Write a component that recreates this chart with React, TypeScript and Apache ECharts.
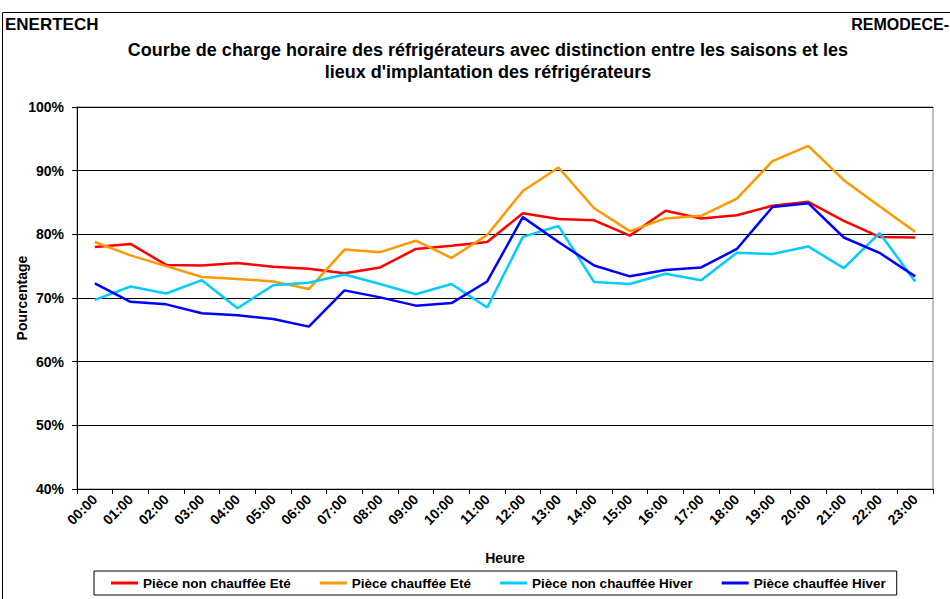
import React, { useEffect, useRef } from "react";
import * as echarts from "echarts";

const hours = ["00:00","01:00","02:00","03:00","04:00","05:00","06:00","07:00","08:00","09:00","10:00","11:00","12:00","13:00","14:00","15:00","16:00","17:00","18:00","19:00","20:00","21:00","22:00","23:00"];

const nonChaufEte = [78.0,78.5,75.2,75.1,75.5,74.9,74.6,73.9,74.8,77.7,78.2,78.8,83.3,82.4,82.2,79.8,83.7,82.5,83.0,84.5,85.1,82.1,79.6,79.5];
const chaufEte = [78.8,76.7,75.0,73.3,73.0,72.6,71.4,77.6,77.2,79.0,76.3,79.9,86.8,90.5,84.1,80.5,82.5,82.9,85.6,91.5,93.9,88.5,84.4,80.4];
const nonChaufHiver = [69.7,71.8,70.7,72.8,68.4,72.0,72.4,73.7,72.2,70.6,72.2,68.5,79.6,81.3,72.5,72.2,73.8,72.8,77.1,76.9,78.1,74.7,80.2,72.6];
const chaufHiver = [72.3,69.4,69.0,67.6,67.3,66.7,65.5,71.2,70.1,68.8,69.2,72.6,82.7,78.8,75.1,73.4,74.4,74.8,77.7,84.3,84.9,79.5,77.1,73.4];

const seriesNames = ["Pièce non chauffée Eté","Pièce chauffée Eté","Pièce non chauffée Hiver","Pièce chauffée Hiver"];
const seriesColors = ["#FF0000","#FF9900","#00CCFF","#0000FF"];
const yTicks = { min: 40, max: 100, interval: 10 };

const FONT = "Arial, 'Liberation Sans', sans-serif";

export default function App() {
  const ref = useRef<HTMLDivElement>(null);
  useEffect(() => {
    if (!ref.current) return;
    const chart = echarts.init(ref.current, null, { renderer: "svg" });
    const data = [nonChaufEte, chaufEte, nonChaufHiver, chaufHiver];
    chart.setOption({
      animation: false,
      backgroundColor: "#ffffff",
      textStyle: { fontFamily: FONT },
      graphic: [
        { type: "rect", shape: { x: 2.5, y: 12.5, width: 1000, height: 700 }, style: { fill: "none", stroke: "#000", lineWidth: 1 }, silent: true },
        { type: "text", x: 5, y: 16, style: { text: "ENERTECH", font: `bold 17px ${FONT}`, fill: "#000" } },
        { type: "text", x: 949, y: 16, style: { text: "REMODECE-", font: `bold 16px ${FONT}`, fill: "#000", align: "right" } },
        { type: "text", x: 488, y: 41, style: { text: "Courbe de charge horaire des réfrigérateurs avec distinction entre les saisons et les", font: `bold 18px ${FONT}`, fill: "#000", align: "center" } },
        { type: "text", x: 488, y: 63, style: { text: "lieux d'implantation des réfrigérateurs", font: `bold 18px ${FONT}`, fill: "#000", align: "center" } },
      ],
      grid: { left: 77, top: 107, width: 856, height: 382, show: true, borderColor: "#808080", borderWidth: 1, backgroundColor: "transparent" },
      legend: {
        left: 94, top: 571,
        padding: [5, 11, 5, 17],
        borderColor: "#000", borderWidth: 1,
        itemGap: 29, itemWidth: 27, itemHeight: 3, icon: "rect",
        textStyle: { fontFamily: FONT, fontWeight: "bold", fontSize: 13.5, color: "#000" },
        data: seriesNames,
      },
      xAxis: {
        type: "category",
        data: hours,
        boundaryGap: true,
        name: "Heure",
        nameLocation: "middle",
        nameGap: 62,
        nameTextStyle: { fontFamily: FONT, fontWeight: "bold", fontSize: 14, color: "#000" },
        axisLine: { lineStyle: { color: "#000", width: 1 } },
        axisTick: { show: true, length: 5, lineStyle: { color: "#000" } },
        axisLabel: { rotate: 45, fontFamily: FONT, fontWeight: "bold", fontSize: 14, color: "#000", margin: 8, interval: 0 },
        splitLine: { show: false },
      },
      yAxis: {
        type: "value",
        min: yTicks.min, max: yTicks.max, interval: yTicks.interval,
        name: "Pourcentage",
        nameLocation: "middle",
        nameGap: 48,
        nameMoveOverlap: false,
        nameRotate: 90,
        nameTextStyle: { fontFamily: FONT, fontWeight: "bold", fontSize: 14, color: "#000" },
        axisLine: { show: true, lineStyle: { color: "#000", width: 1 } },
        axisTick: { show: true, length: 5, lineStyle: { color: "#000" } },
        axisLabel: { formatter: "{value}%", fontFamily: FONT, fontWeight: "bold", fontSize: 14, color: "#000", margin: 13 },
        splitLine: { show: true, lineStyle: { color: "#000", width: 1 } },
      },
      series: seriesNames.map((n, i) => ({
        name: n,
        type: "line",
        data: data[i],
        showSymbol: false,
        symbol: "none",
        lineStyle: { color: seriesColors[i], width: 2.5 },
        itemStyle: { color: seriesColors[i] },
      })),
    });
    return () => chart.dispose();
  }, []);
  return <div ref={ref} style={{ position: "absolute", left: 0, top: 0, width: 950, height: 599 }} />;
}
